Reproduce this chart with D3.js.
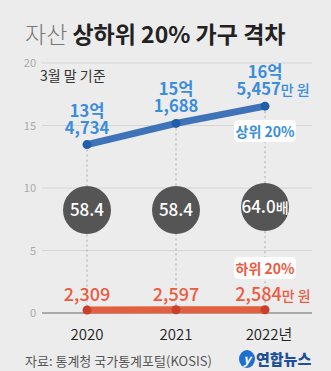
<!DOCTYPE html>
<html><head><meta charset="utf-8">
<script src="https://cdn.jsdelivr.net/npm/d3@7"></script>
<style>
html,body{margin:0;padding:0;background:#ececec;}
svg{display:block;font-family:"Noto Sans CJK KR","Noto Sans",sans-serif;}
</style></head><body>
<svg id="c" width="331" height="371"></svg>
<script>
const years = ["2020","2021","2022"];
const yearLabels = ["2020","2021","2022년"];
const top20 = [13.4734, 15.1688, 16.5457];      // 억 원
const top20Eok = ["13억","15억","16억"];
const top20Man = ["4,734","1,688","5,457"];
const bottom20 = [0.2309, 0.2597, 0.2584];       // 억 원
const bottom20Man = ["2,309","2,597","2,584"];
const ratio = ["58.4","58.4","64.0"];
const yTicks = [0,5,10,15,20];

const svg = d3.select("#c");
const x = d3.scalePoint().domain(years).range([87,265]);
const y = d3.scaleLinear().domain([0,20]).range([313,63]);
const blue = "#3a8ddc", blueLine = "#3f73b9", red = "#ec5a3f", redLine = "#e2603f";

// title
const t = svg.append("text").attr("x",25).attr("y",43).attr("font-size",23);
t.append("tspan").attr("fill","#777").attr("font-weight",300).text("자산 ");
t.append("tspan").attr("fill","#222").attr("font-weight",700).text("상하위 20% 가구 격차");

// grid
svg.append("g").selectAll("line").data(yTicks.filter(d=>d>0)).join("line")
  .attr("x1",42).attr("x2",312).attr("y1",d=>y(d)).attr("y2",d=>y(d))
  .attr("stroke","#d4d4d4").attr("stroke-width",1);
svg.append("line").attr("x1",42).attr("x2",312).attr("y1",y(0)).attr("y2",y(0))
  .attr("stroke","#666").attr("stroke-width",1.2);
svg.append("g").selectAll("text").data(yTicks).join("text")
  .attr("x",36).attr("y",d=>y(d)+4).attr("text-anchor","end")
  .attr("font-size",11).attr("fill","#aaa").text(d=>d);

// dotted verticals
svg.append("g").selectAll("line").data(years).join("line")
  .attr("x1",d=>x(d)).attr("x2",d=>x(d))
  .attr("y1",(d,i)=>y(top20[i])).attr("y2",y(0))
  .attr("stroke","#aaa").attr("stroke-width",1).attr("stroke-dasharray","2,3");

svg.append("text").attr("x",40).attr("y",81).attr("font-size",14).attr("fill","#333").text("3월 말 기준");

// upper line
const line = d3.line().x((d,i)=>x(years[i])).y(d=>y(d));
svg.append("path").datum(top20).attr("d",line).attr("fill","none")
  .attr("stroke",blueLine).attr("stroke-width",7).attr("stroke-linecap","round");
svg.append("g").selectAll("circle").data(top20).join("circle")
  .attr("cx",(d,i)=>x(years[i])).attr("cy",d=>y(d)).attr("r",4.5).attr("fill","#1f5ea8");

// lower line
svg.append("path").datum(bottom20).attr("d",line).attr("fill","none")
  .attr("stroke",redLine).attr("stroke-width",7).attr("stroke-linecap","round");
svg.append("g").selectAll("circle").data(bottom20).join("circle")
  .attr("cx",(d,i)=>x(years[i])).attr("cy",d=>y(d)).attr("r",4.5).attr("fill","#c9402a");

// upper labels (two-line wrapped text)
const ug = svg.append("g").attr("font-weight",700).attr("fill",blue).attr("text-anchor","middle");
years.forEach((yr,i)=>{
  const yy = y(top20[i]);
  const tt = ug.append("text").attr("x",x(yr)).attr("y",yy-28).attr("font-size",16.5);
  tt.append("tspan").attr("x",x(yr)).text(top20Eok[i]);
  tt.append("tspan").attr("x",x(yr)+(i===2?8:0)).attr("dy",17).text(top20Man[i]);
  if(i===2) tt.append("tspan").attr("font-size",14).attr("font-weight",500).text("만 원");
});

// lower labels
const lg = svg.append("g").attr("font-weight",500).attr("fill",red).attr("text-anchor","middle");
years.forEach((yr,i)=>{
  const tt = lg.append("text").attr("x",x(yr)+(i===2?8:0)).attr("y",y(bottom20[i])-9).attr("font-size",18);
  tt.append("tspan").text(bottom20Man[i]);
  if(i===2) tt.append("tspan").attr("font-size",14).text("만 원");
});

// series tags
function tag(cx,cy,txt,col){
  svg.append("rect").attr("x",cx-31).attr("y",cy-11).attr("width",62).attr("height",22)
    .attr("rx",5).attr("fill","#fff");
  svg.append("text").attr("x",cx).attr("y",cy+5.5).attr("text-anchor","middle")
    .attr("font-size",14).attr("font-weight",700).attr("fill",col).text(txt);
}
tag(x("2022"),131,"상위 20%",blue);
tag(x("2022"),268,"하위 20%",red);

// ratio circles
const cg = svg.append("g");
years.forEach((yr,i)=>{
  cg.append("circle").attr("cx",x(yr)).attr("cy",i===2?207:210).attr("r",24).attr("fill","#555");
  const tt = cg.append("text").attr("x",x(yr)).attr("y",(i===2?207:210)+6)
    .attr("text-anchor","middle").attr("fill","#fff").attr("font-size",17).attr("font-weight",500);
  tt.append("tspan").text(ratio[i]);
  if(i===2) tt.append("tspan").attr("font-size",14).text("배");
});

// x labels
svg.append("g").selectAll("text").data(years).join("text")
  .attr("x",(d,i)=>x(d)+(i===2?4:0)).attr("y",340).attr("text-anchor","middle")
  .attr("font-size",15).attr("font-weight",350).attr("fill","#222").text((d,i)=>yearLabels[i]);

// footer
svg.append("text").attr("x",25).attr("y",366).attr("font-size",13).attr("fill","#555")
  .text("자료: 통계청 국가통계포털(KOSIS)");
const lg2 = svg.append("g");
lg2.append("ellipse").attr("cx",247).attr("cy",359).attr("rx",8).attr("ry",9).attr("fill","#1f6fd0");
lg2.append("text").attr("x",247).attr("y",364).attr("text-anchor","middle").attr("font-size",13)
  .attr("font-style","italic").attr("font-weight",700).attr("fill","#fff").text("y");
lg2.append("text").attr("x",256).attr("y",365).attr("font-size",15).attr("font-weight",900)
  .attr("fill","#1d4f9c").text("연합뉴스");
</script>
</body></html>
